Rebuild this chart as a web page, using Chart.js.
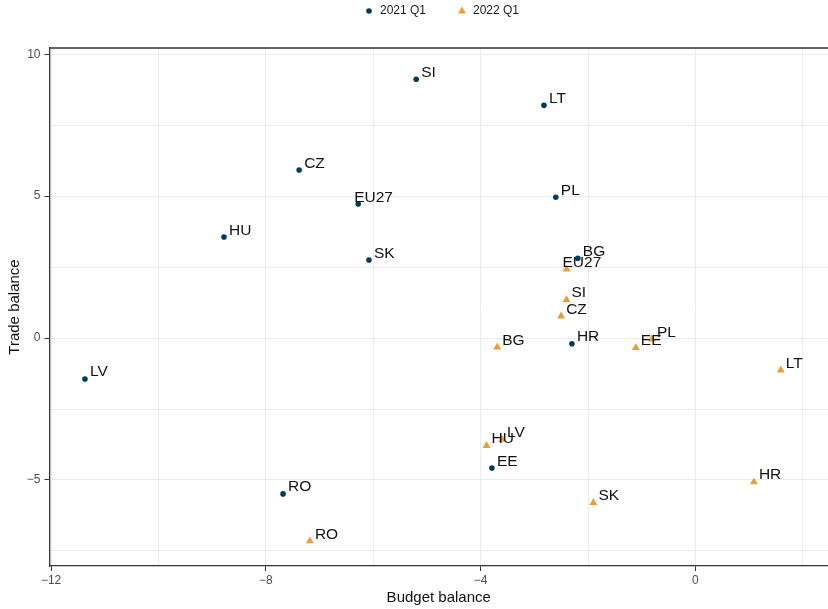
<!DOCTYPE html>
<html>
<head>
<meta charset="utf-8">
<script src="https://cdn.jsdelivr.net/npm/chart.js@4.4.1/dist/chart.umd.min.js"></script>
<style>
  html, body { margin: 0; padding: 0; background: #ffffff; }
  #wrap { width: 828px; height: 609px; }
</style>
</head>
<body>
<div id="wrap"><canvas id="balanceChart" width="828" height="609"></canvas></div>
<script>
// Data
const countries2021 = ['SI', 'LT', 'CZ', 'PL', 'EU27', 'HU', 'SK', 'BG', 'HR', 'LV', 'EE', 'RO'];
const budget2021 = [-5.20, -2.82, -7.38, -2.60, -6.28, -8.78, -6.08, -2.19, -2.30, -11.37, -3.79, -7.68];
const trade2021 = [9.12, 8.20, 5.92, 4.96, 4.72, 3.56, 2.75, 2.81, -0.20, -1.44, -4.58, -5.49];

const countries2022 = ['EU27', 'SI', 'CZ', 'BG', 'EE', 'PL', 'LT', 'HU', 'LV', 'SK', 'HR', 'RO'];
const budget2022 = [-2.40, -2.40, -2.50, -3.69, -1.11, -0.81, 1.59, -3.89, -3.60, -1.90, 1.09, -7.18];
const trade2022 = [2.43, 1.35, 0.77, -0.32, -0.34, -0.04, -1.13, -3.79, -3.57, -5.80, -5.07, -7.15];

const seriesNames = ['2021 Q1', '2022 Q1'];
const xTicks = [-12, -10, -8, -6, -4, -2, 0, 2];
const xLabelled = [-12, -8, -4, 0];
const yTicks = [-7.5, -5, -2.5, 0, 2.5, 5, 7.5, 10];
const yLabelled = [-5, 0, 5, 10];

const NAVY = '#033C5A';
const ORANGE = '#E89F3A';
const FONT = '"Liberation Sans", Arial, Helvetica, sans-serif';

function toPoints(xs, ys, names) {
    return xs.map((x, i) => ({ x: x, y: ys[i], label: names[i] }));
}

// country labels sit up-right of their point (EU27 got nudged left by the repel)
const pointLabels = {
    id: 'pointLabels',
    afterDatasetsDraw(chart) {
        const ctx = chart.ctx;
        ctx.save();
        ctx.font = '15.5px ' + FONT;
        ctx.fillStyle = '#111111';
        ctx.textAlign = 'left';
        ctx.textBaseline = 'alphabetic';
        chart.data.datasets.forEach((ds, di) => {
            const meta = chart.getDatasetMeta(di);
            meta.data.forEach((pt, i) => {
                const name = ds.data[i].label;
                const dx = name === 'EU27' ? -4 : 5;
                ctx.fillText(name, pt.x + dx, pt.y - 2.5);
            });
        });
        ctx.restore();
    }
};

// top border of the panel plus the legend on top
const frameAndLegend = {
    id: 'frameAndLegend',
    afterDraw(chart) {
        const ctx = chart.ctx;
        const area = chart.chartArea;
        ctx.save();
        ctx.strokeStyle = '#333333';
        ctx.lineWidth = 1.3;
        ctx.beginPath();
        ctx.moveTo(area.left, area.top);
        ctx.lineTo(area.right + 2, area.top);
        ctx.stroke();

        ctx.font = '12px ' + FONT;
        ctx.textBaseline = 'middle';
        ctx.textAlign = 'left';
        const ly = 11;
        // 2021 Q1
        ctx.fillStyle = NAVY;
        ctx.beginPath();
        ctx.arc(369, ly, 2.8, 0, Math.PI * 2);
        ctx.fill();
        ctx.fillStyle = '#1a1a1a';
        ctx.fillText(seriesNames[0], 380, ly);
        // 2022 Q1
        ctx.fillStyle = ORANGE;
        ctx.beginPath();
        ctx.moveTo(462, ly - 4.5);
        ctx.lineTo(466, ly + 2.5);
        ctx.lineTo(458, ly + 2.5);
        ctx.closePath();
        ctx.fill();
        ctx.fillStyle = '#1a1a1a';
        ctx.fillText(seriesNames[1], 473, ly);
        ctx.restore();
    }
};

const ctx = document.getElementById('balanceChart').getContext('2d');
new Chart(ctx, {
    type: 'scatter',
    data: {
        datasets: [
            {
                label: seriesNames[0],
                data: toPoints(budget2021, trade2021, countries2021),
                backgroundColor: NAVY,
                borderColor: NAVY,
                pointStyle: 'circle',
                pointRadius: 2.8,
                borderWidth: 0
            },
            {
                label: seriesNames[1],
                data: toPoints(budget2022, trade2022, countries2022),
                backgroundColor: ORANGE,
                borderColor: ORANGE,
                pointStyle: 'triangle',
                pointRadius: 4.6,
                borderWidth: 0
            }
        ]
    },
    options: {
        responsive: false,
        animation: false,
        devicePixelRatio: 1,
        layout: { autoPadding: false, padding: { top: 48, right: 0, left: 0, bottom: 0 } },
        plugins: {
            legend: { display: false },
            tooltip: { enabled: false }
        },
        scales: {
            x: {
                type: 'linear',
                min: -12.03,
                max: 2.47,
                afterFit: function (scale) {
                    scale.height = 43;
                    scale.paddingLeft = 0;
                    scale.paddingRight = 0;
                },
                afterBuildTicks: function (scale) { scale.ticks = xTicks.map(v => ({ value: v })); },
                grid: {
                    color: '#EBEBEB',
                    lineWidth: 1,
                    tickLength: 5,
                    tickColor: c => xLabelled.includes(c.tick.value) ? '#333333' : 'rgba(0,0,0,0)'
                },
                border: { display: true, color: '#333333', width: 1.3 },
                ticks: {
                    padding: 2,
                    color: '#4d4d4d',
                    font: { family: FONT, size: 12 },
                    maxRotation: 0,
                    autoSkip: false,
                    callback: v => xLabelled.includes(v) ? (v < 0 ? '\u2212' + Math.abs(v) : String(v)) : ''
                },
                title: {
                    display: true,
                    text: 'Budget balance',
                    color: '#111111',
                    font: { family: FONT, size: 15 },
                    padding: { top: 0, bottom: 2 }
                }
            },
            y: {
                type: 'linear',
                min: -8.03,
                max: 10.22,
                afterFit: function (scale) {
                    scale.width = 49.5;
                    scale.paddingTop = 0;
                    scale.paddingBottom = 0;
                },
                afterBuildTicks: function (scale) { scale.ticks = yTicks.map(v => ({ value: v })); },
                grid: {
                    color: '#EBEBEB',
                    lineWidth: 1,
                    tickLength: 5,
                    tickColor: c => yLabelled.includes(c.tick.value) ? '#333333' : 'rgba(0,0,0,0)'
                },
                border: { display: true, color: '#333333', width: 1.3 },
                ticks: {
                    padding: 4,
                    color: '#4d4d4d',
                    font: { family: FONT, size: 12 },
                    autoSkip: false,
                    callback: v => yLabelled.includes(v) ? (v < 0 ? '\u2212' + Math.abs(v) : String(v)) : ''
                },
                title: {
                    display: true,
                    text: 'Trade balance',
                    color: '#111111',
                    font: { family: FONT, size: 15 },
                    padding: { top: 6, bottom: 0 }
                }
            }
        }
    },
    plugins: [pointLabels, frameAndLegend]
});
</script>
</body>
</html>
